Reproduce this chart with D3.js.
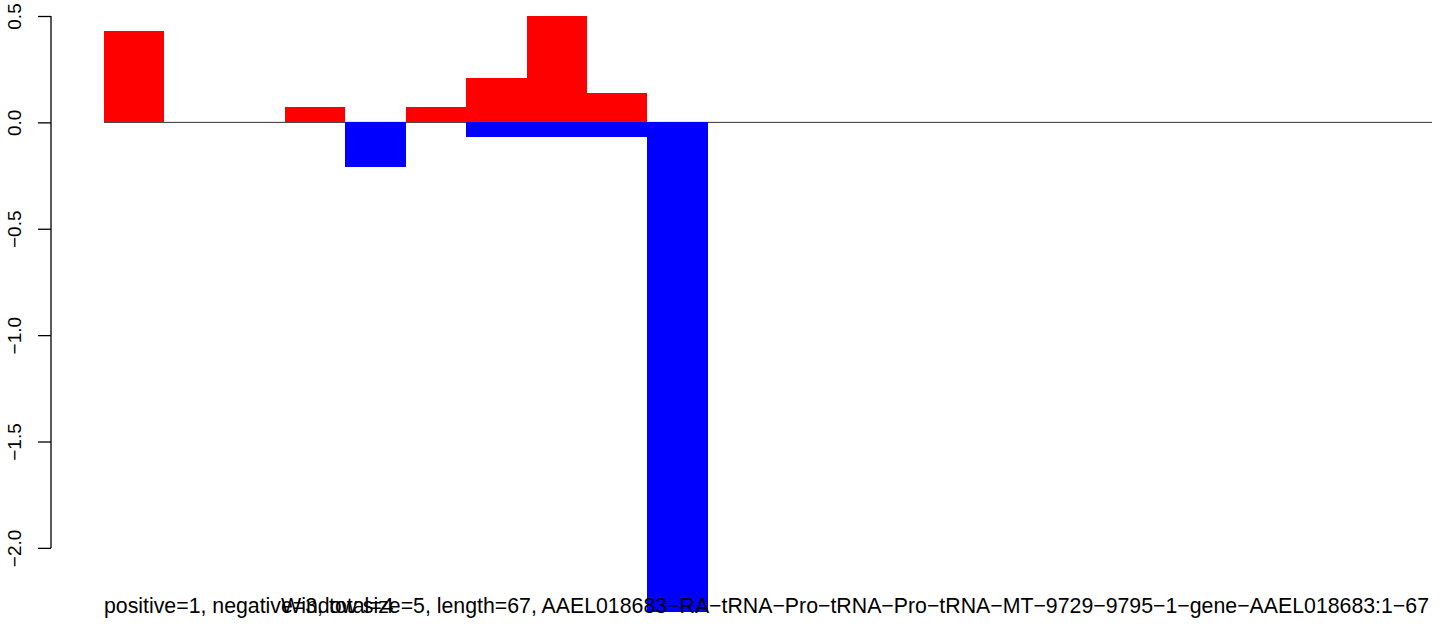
<!DOCTYPE html>
<html><head><meta charset="utf-8">
<script src="https://cdn.jsdelivr.net/npm/d3@7"></script>
<style>body{margin:0;background:#fff}svg{display:block}text{font-family:"Liberation Sans",Arial,sans-serif;fill:#000}</style>
</head><body><svg id="c" width="1444" height="634"></svg>
<script>
const positions = d3.range(1, 23);
const positiveVals = [0.43,0,0,0.07,0,0.07,0.21,0.5,0.14,0,0,0,0,0,0,0,0,0,0,0,0,0];
const negativeVals = [0,0,0,0,-0.21,0,-0.07,-0.07,-0.07,-2.3,0,0,0,0,0,0,0,0,0,0,0,0];
const yTicks = [0.5, 0.0, -0.5, -1.0, -1.5, -2.0];
const leftLabel = "positive=1, negative=3, total=4";
const rightLabel = "Window size=5, length=67, AAEL018683\u2212RA\u2212tRNA\u2212Pro\u2212tRNA\u2212Pro\u2212tRNA\u2212MT\u22129729\u22129795\u22121\u2212gene\u2212AAEL018683:1\u221267";

const svg = d3.select("#c");
const x = d3.scaleBand().domain(positions).range([104, 1432]).padding(0);
const y = d3.scaleLinear().domain([-2.3, 0.5]).range([611.7, 16]);

svg.append("line").attr("x1", 104).attr("x2", 1432).attr("y1", y(0)).attr("y2", y(0))
  .attr("stroke", "#333").attr("stroke-width", 1);

svg.append("g").attr("shape-rendering", "crispEdges").selectAll("rect").data(positions.map((p,i)=>({p,v:positiveVals[i]})).filter(d=>d.v>0))
  .join("rect").attr("x", d=>x(d.p)).attr("width", x.bandwidth())
  .attr("y", d=>y(d.v)).attr("height", d=>y(0)-y(d.v)).attr("fill", "#ff0000");
svg.append("g").attr("shape-rendering", "crispEdges").selectAll("rect").data(positions.map((p,i)=>({p,v:negativeVals[i]})).filter(d=>d.v<0))
  .join("rect").attr("x", d=>x(d.p)).attr("width", x.bandwidth())
  .attr("y", y(0)).attr("height", d=>y(d.v)-y(0)).attr("fill", "#0000ff");

const ax = svg.append("g").attr("transform", "translate(51,0)")
  .call(d3.axisLeft(y).tickValues(yTicks).tickSize(13).tickFormat(d=>d3.format(".1f")(d).replace("-", "\u2212")));
ax.select(".domain").attr("d", `M0,${y(0.5)}V${y(-2.0)}`).attr("stroke", "#000").attr("stroke-width", 1.3);
ax.selectAll(".tick line").attr("stroke", "#000").attr("stroke-width", 1.3);
ax.selectAll(".tick text").attr("x", null).attr("dy", null)
  .attr("transform", "translate(-30,0) rotate(-90)").attr("text-anchor", "middle")
  .style("font-size", "19px").style("font-family", '"Liberation Sans",Arial,sans-serif');

svg.append("text").attr("x", 104).attr("y", 613).attr("text-anchor", "start").style("font-size", "21.3px").text(leftLabel);
svg.append("text").attr("x", 1429).attr("y", 613).attr("text-anchor", "end").style("font-size", "21.3px").text(rightLabel);
</script></body></html>
